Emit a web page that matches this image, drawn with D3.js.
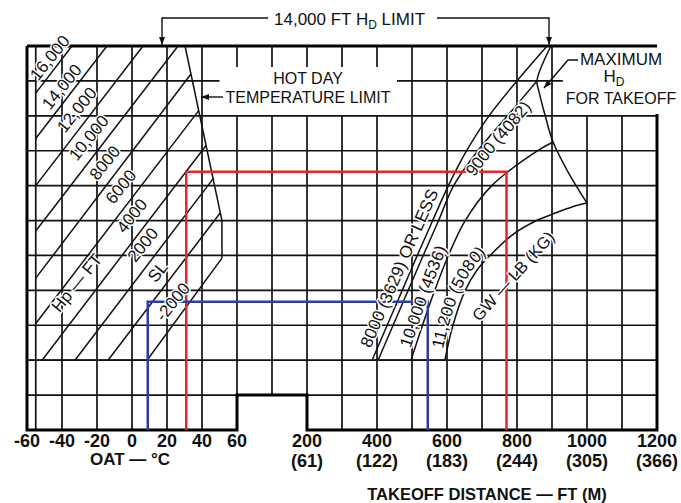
<!DOCTYPE html>
<html>
<head>
<meta charset="utf-8">
<script src="https://cdn.jsdelivr.net/npm/d3@7"></script>
<style>
  body { margin: 0; background: #fff; }
  svg { display: block; font-family: 'Liberation Sans', Arial, Helvetica, sans-serif; }
  .grid line { stroke: #111; stroke-width: 1.7; }
  .border { stroke: #000; stroke-width: 3; fill: none; }
  .curve { stroke: #111; stroke-width: 1.5; fill: none; }
  .lbl { font-size: 16.5px; fill: #111; paint-order: stroke; stroke: #fff; stroke-width: 3px; stroke-linejoin: round; }
  .tick { font-size: 18px; font-weight: bold; fill: #111; }
  .note { font-size: 16px; fill: #111; }
</style>
</head>
<body>
<svg width="681" height="503"></svg>
<script>
// OAT axis (deg C), takeoff distance axis (ft) and its metre equivalents
const oatTicks = [-60, -40, -20, 0, 20, 40, 60]
const distTicks = [200, 400, 600, 800, 1000, 1200]
const distMetres = [61, 122, 183, 244, 305, 366]

// density altitude rows behind the grid (ft)
const hdRows = [-6000, -4000, -2000, 0, 2000, 4000, 6000, 8000, 10000]

// pressure altitude lines, [OAT, HD] at both ends
const hpNames = ['16,000', '14,000', '12,000', '10,000', '8000', '6000', '4000', '2000', 'SL', '-2000']
const hpLines = [
  [[-55, 11300], [-34.3, 14000]],
  [[-55, 8700], [-14.3, 14000]],
  [[-55, 6000], [6.3, 14000]],
  [[-55, 3400], [26.3, 14000]],
  [[-55, 700], [33.7, 12400]],
  [[-55, -1900], [38.1, 10300]],
  [[-51.4, -4000], [42.3, 8300]],
  [[-32.6, -4000], [46.4, 6400]],
  [[-13.7, -4000], [50.5, 4450]],
  [[8.6, -4000], [51.4, 1850]]
]
const tempLimit = [[30.3, 14000], [51.4, 4000], [51.4, 1850]]
const hpBase = [[-60, -4000], [8.6, -4000]]

// gross weight lines, [distance ft, HD ft]
const gwNames = ['8000 (3629) OR LESS', '9000 (4082)', '10,000 (4536)', '11,200 (5080)']
const gwLines = [
  [[386, -4000], [429, -2000], [472, 0], [515, 2000], [559, 4000], [604, 6000], [656, 8000], [720, 10000], [800, 12000], [886, 14000]],
  [[403, -4000], [446, -2000], [489, 0], [532, 2000], [576, 4000], [619, 6000], [688, 8000], [773, 10000], [857, 12000]],
  [[497, -4000], [530, -2000], [565, 0], [604, 2000], [652, 4000], [728, 6000], [859, 8000], [903, 8500]],
  [[594, -4000], [617, -2000], [652, 0], [686, 1170], [723, 2000], [786, 3170], [856, 4000], [909, 4430], [957, 4780], [1000, 5000]]
]
const maxHd = [[897, 14000], [857, 12000], [863, 11370], [880, 10050], [903, 8500], [946, 6780], [1000, 5000]]
const gwBase = [[386, -4000], [594, -4000]]

// worked examples: OAT, HD reached, takeoff distance
const redExample = [31, 6800, 770]
const blueExample = [9, -650, 545]

const svg = d3.select('svg'),
  width = +svg.attr('width'),
  height = +svg.attr('height')

const x1 = d3.scaleLinear().domain([-60, 60]).range([27, 237])
const x2 = d3.scaleLinear().domain([200, 1200]).range([307, 657])
const y = d3.scaleLinear().domain([-8000, 14000]).range([430, 46])

const oatLine = d3.line().x(d => x1(d[0])).y(d => y(d[1]))
const distLine = d3
  .line()
  .x(d => x2(d[0]))
  .y(d => y(d[1]))
  .curve(d3.curveCatmullRom.alpha(0.5))

svg
  .append('defs')
  .append('marker')
  .attr('id', 'arrow')
  .attr('viewBox', '0 0 8 6')
  .attr('refX', 8)
  .attr('refY', 3)
  .attr('markerWidth', 8)
  .attr('markerHeight', 6)
  .attr('markerUnits', 'userSpaceOnUse')
  .attr('orient', 'auto')
  .append('path')
  .attr('d', 'M0,0L8,3L0,6Z')
  .attr('fill', '#111')

// grid
const tickEnd = 12800
const vSegs = []
;[-40, -20, 0, 20, 40, -55].forEach(t => vSegs.push([x1(t), 14000, -8000]))
vSegs.push([x1(60), 14000, tickEnd], [x1(60), 10000, -8000])
vSegs.push([x2(100), 14000, tickEnd], [x2(100), 10000, -6000])
;[200, 300, 400].forEach(t => vSegs.push([x2(t), 14000, tickEnd], [x2(t), 10000, -8000]))
;[500, 600, 700, 800, 900].forEach(t => vSegs.push([x2(t), 14000, -8000]))
;[1000, 1100].forEach(t => vSegs.push([x2(t), 10000, -8000]))

const hSegs = hdRows.map(h => [h, x1(-60), x2(1200)])
hSegs.push([12000, x1(-60), x1(50)], [12000, x2(457), x2(931)])

const grid = svg.append('g').attr('class', 'grid')
grid
  .selectAll('line.v')
  .data(vSegs)
  .enter()
  .append('line')
  .attr('class', 'v')
  .attr('x1', d => d[0])
  .attr('x2', d => d[0])
  .attr('y1', d => y(d[1]))
  .attr('y2', d => y(d[2]))
grid
  .selectAll('line.h')
  .data(hSegs)
  .enter()
  .append('line')
  .attr('class', 'h')
  .attr('x1', d => d[1])
  .attr('x2', d => d[2])
  .attr('y1', d => y(d[0]))
  .attr('y2', d => y(d[0]))

// outline with the step between the two panels
svg
  .append('path')
  .attr('class', 'border')
  .attr(
    'd',
    `M${x1(-60)},${y(14000)}H${x2(1200)}` +
      `M${x1(-60)},${y(14000)}V${y(-8000)}H${x1(60)}V${y(-6000)}H${x2(200)}V${y(-8000)}H${x2(1200)}V${y(10100)}`
  )

// left panel
svg
  .append('g')
  .selectAll('path')
  .data(hpLines)
  .enter()
  .append('path')
  .attr('class', 'curve')
  .attr('d', oatLine)
svg.append('path').attr('class', 'curve').attr('stroke-width', 2).attr('d', oatLine(tempLimit))
svg.append('path').attr('class', 'curve').attr('stroke-width', 3).attr('d', oatLine(hpBase))

// right panel
const gw = svg
  .append('g')
  .selectAll('path')
  .data(gwLines)
  .enter()
  .append('path')
  .attr('class', 'curve')
  .attr('id', (d, i) => 'gw' + i)
  .attr('d', distLine)
svg.append('path').attr('class', 'curve').attr('d', distLine(maxHd))
svg.append('path').attr('class', 'curve').attr('stroke-width', 3).attr('d', d3.line().x(d => x2(d[0])).y(d => y(d[1]))(gwBase))

// worked examples
const example = (e, color) =>
  svg
    .append('path')
    .attr('fill', 'none')
    .attr('stroke', color)
    .attr('stroke-width', 2.5)
    .attr('d', `M${x1(e[0])},${y(-8000)}V${y(e[1])}H${x2(e[2])}V${y(-8000)}`)
example(redExample, '#e3262b')
example(blueExample, '#2c3f9e')

// pressure altitude labels
const hpLabelPos = [[50, 58], [62, 87], [77, 110], [89, 138], [105, 163], [121, 187], [132, 216], [143, 245], [158, 272], [173, 302]]
svg
  .append('g')
  .selectAll('text')
  .data(hpNames)
  .enter()
  .append('text')
  .attr('class', 'lbl')
  .style('font-size', '17px')
  .attr('text-anchor', 'middle')
  .attr('dominant-baseline', 'central')
  .attr('transform', (d, i) => `translate(${hpLabelPos[i][0]},${hpLabelPos[i][1]}) rotate(-51)`)
  .text(d => d)
svg
  .append('text')
  .attr('class', 'lbl')
  .style('font-size', '17px')
  .attr('text-anchor', 'middle')
  .attr('dominant-baseline', 'central')
  .attr('transform', 'translate(77,283) rotate(-51)')
  .text('Hp — FT')

// gross weight labels run along their curves
function offsetAtY(node, yTarget) {
  const total = node.getTotalLength()
  for (let s = 0; s < total; s += 0.5) {
    if (node.getPointAtLength(s).y <= yTarget) return s
  }
  return 0
}
const gwLabelStart = [351, 170, 350, 350]
const gwLabelShift = [-6, 13, -4, -4]
gw.each(function(d, i) {
  svg
    .append('text')
    .attr('class', 'lbl')
    .style('font-size', '17px')
    .append('textPath')
    .attr('href', '#gw' + i)
    .attr('startOffset', offsetAtY(this, gwLabelStart[i]))
    .append('tspan')
    .attr('dy', gwLabelShift[i])
    .text(gwNames[i])
})
svg
  .append('text')
  .attr('class', 'lbl')
  .attr('text-anchor', 'middle')
  .attr('dominant-baseline', 'central')
  .attr('transform', 'translate(513,276) rotate(-48)')
  .text('GW — LB (KG)')

// notes
const limitText = svg.append('text').attr('x', 274).attr('y', 25).style('font-size', '17px').attr('fill', '#111')
limitText.append('tspan').text('14,000 FT H')
limitText.append('tspan').attr('dy', 4).style('font-size', '12px').text('D')
limitText.append('tspan').attr('dy', -4).text(' LIMIT')
svg.append('path').attr('fill', 'none').attr('stroke', '#111').attr('stroke-width', 1.4).attr('d', 'M268,18H162V45').attr('marker-end', 'url(#arrow)')
svg.append('path').attr('fill', 'none').attr('stroke', '#111').attr('stroke-width', 1.4).attr('d', 'M437,18H549V45').attr('marker-end', 'url(#arrow)')

svg.append('text').attr('class', 'note').attr('x', 308).attr('y', 84).attr('text-anchor', 'middle').text('HOT DAY')
svg.append('text').attr('class', 'note').attr('x', 308).attr('y', 103).attr('text-anchor', 'middle').text('TEMPERATURE LIMIT')
svg.append('path').attr('fill', 'none').attr('stroke', '#111').attr('stroke-width', 1.4).attr('d', 'M223,97H201').attr('marker-end', 'url(#arrow)')

svg.append('text').attr('class', 'note').style('font-size', '17px').attr('x', 621).attr('y', 65).attr('text-anchor', 'middle').text('MAXIMUM')
const hdText = svg.append('text').attr('class', 'note').style('font-size', '17px').attr('x', 614).attr('y', 82).attr('text-anchor', 'middle')
hdText.append('tspan').text('H')
hdText.append('tspan').attr('dy', 4).style('font-size', '12px').text('D')
svg.append('text').attr('class', 'note').attr('x', 621).attr('y', 104).attr('text-anchor', 'middle').text('FOR TAKEOFF')
svg.append('path').attr('fill', 'none').attr('stroke', '#111').attr('stroke-width', 1.4).attr('d', 'M578,60H568L544,88').attr('marker-end', 'url(#arrow)')

// axes labels
svg
  .append('g')
  .selectAll('text')
  .data(oatTicks)
  .enter()
  .append('text')
  .attr('class', 'tick')
  .attr('x', d => x1(d))
  .attr('y', 447)
  .attr('text-anchor', 'middle')
  .text(d => d)
const dist = svg.append('g').selectAll('g').data(distTicks).enter().append('g')
dist
  .append('text')
  .attr('class', 'tick')
  .attr('x', d => x2(d))
  .attr('y', 447)
  .attr('text-anchor', 'middle')
  .text(d => d)
dist
  .append('text')
  .attr('class', 'tick')
  .attr('x', d => x2(d))
  .attr('y', 467)
  .attr('text-anchor', 'middle')
  .text((d, i) => `(${distMetres[i]})`)

svg.append('text').attr('class', 'tick').style('font-size', '17px').attr('x', 130).attr('y', 465).attr('text-anchor', 'middle').text('OAT — °C')
svg.append('text').attr('class', 'tick').style('font-size', '16.5px').attr('x', 487).attr('y', 500).attr('text-anchor', 'middle').text('TAKEOFF DISTANCE — FT (M)')
</script>
</body>
</html>
